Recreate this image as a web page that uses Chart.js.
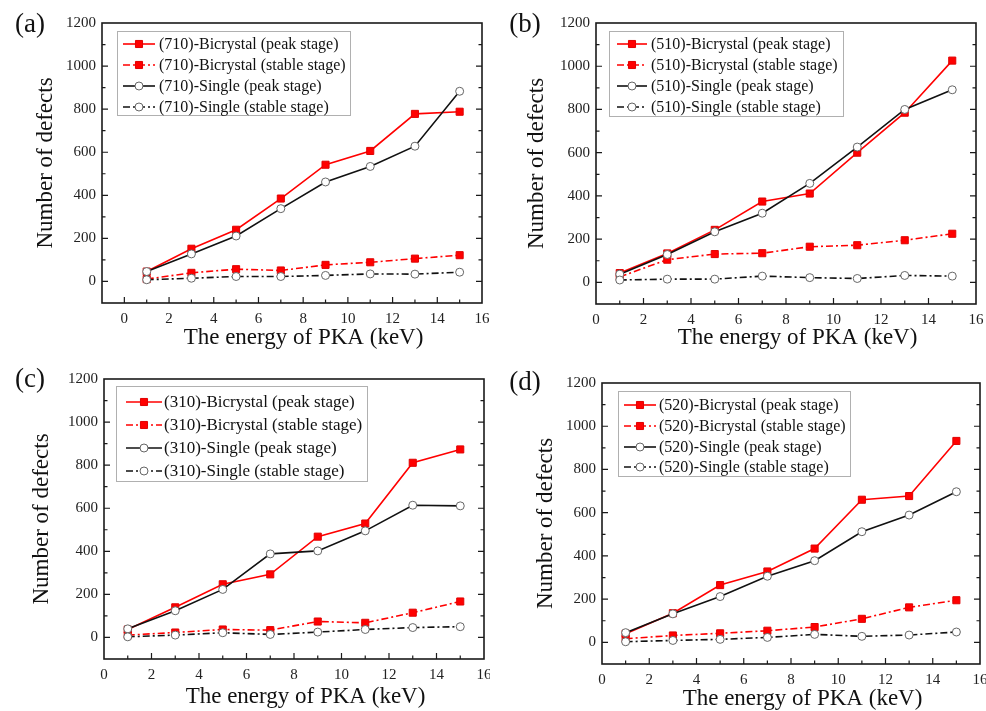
<!DOCTYPE html>
<html>
<head>
<meta charset="utf-8">
<title>Number of defects vs PKA energy</title>
<script src="https://cdn.jsdelivr.net/npm/chart.js@4.4.1/dist/chart.umd.min.js"></script>
<style>
body{margin:0;background:#fff;}
#wrap{position:relative;width:986px;height:711px;overflow:hidden;}
canvas{position:absolute;}
</style>
</head>
<body>
<div id="wrap">
  <canvas id="cA" width="490" height="350" style="left:0;top:0"></canvas>
  <canvas id="cB" width="496" height="350" style="left:490px;top:0"></canvas>
  <canvas id="cC" width="490" height="361" style="left:0;top:350px"></canvas>
  <canvas id="cD" width="496" height="361" style="left:490px;top:350px"></canvas>
</div>
<script>
// PKA energies (keV) and axis ticks
const energy=[1,3,5,7,9,11,13,15];
const xTicks=[0,2,4,6,8,10,12,14,16];
const yTicks=[0,200,400,600,800,1000,1200];

// (a) 710
const p710_biPeak=[46,152,240,385,542,606,778,788];
const p710_biStable=[11,40,57,51,77,89,106,122];
const p710_siPeak=[46,128,211,338,462,534,628,883];
const p710_siStable=[8,15,23,23,28,35,34,43];
// (b) 510
const p510_biPeak=[43,134,243,374,411,600,785,1026];
const p510_biStable=[26,105,131,135,165,172,195,225];
const p510_siPeak=[38,129,234,320,458,626,800,891];
const p510_siStable=[11,15,15,29,22,18,32,29];
// (c) 310
const p310_biPeak=[37,140,247,293,468,529,811,873];
const p310_biStable=[11,23,37,34,74,68,115,167];
const p310_siPeak=[40,124,223,388,402,495,614,611];
const p310_siStable=[3,11,22,14,25,37,46,50];
// (d) 520
const p520_biPeak=[40,135,265,328,434,660,677,932];
const p520_biStable=[17,32,42,54,71,109,162,195];
const p520_siPeak=[45,132,212,306,378,512,589,697];
const p520_siStable=[3,9,14,23,37,28,34,48];

Chart.defaults.font.family='"Liberation Serif","Times New Roman",serif';
Chart.defaults.color='#1a1a1a';

const dashDot=[7,3,2,3];
const pts=arr=>energy.map((e,i)=>({x:e,y:arr[i]}));

function makeDatasets(plane,bp,bs,sp,ss){
  const red={borderColor:'#ff0000',backgroundColor:'#ff0000',pointBackgroundColor:'#ff0000',pointBorderColor:'#e00000',
    pointStyle:'rect',pointRadius:5,pointBorderWidth:1,borderWidth:1.6};
  const blk={borderColor:'#111',backgroundColor:'#fff',pointBackgroundColor:'#fff',pointBorderColor:'#666',
    pointStyle:'circle',pointRadius:4,pointBorderWidth:1,borderWidth:1.6};
  return [
    {...red,label:'('+plane+')-Bicrystal (peak stage)',data:pts(bp),order:3},
    {...red,label:'('+plane+')-Bicrystal (stable stage)',data:pts(bs),borderDash:dashDot,order:2},
    {...blk,label:'('+plane+')-Single (peak stage)',data:pts(sp),order:1},
    {...blk,label:'('+plane+')-Single (stable stage)',data:pts(ss),borderDash:dashDot,order:0}
  ];
}

// frame, inward ticks, in-plot legend and panel letter
function panelPlugin(p){
  return {
    id:'panel',
    afterDraw(chart){
      const ctx=chart.ctx, a=chart.chartArea, xs=chart.scales.x, ys=chart.scales.y;
      ctx.save();
      ctx.strokeStyle='#1a1a1a';
      ctx.lineWidth=1.2;
      ctx.beginPath();
      for(let v=Math.ceil(xs.min);v<=xs.max;v++){
        const px=xs.getPixelForValue(v);
        if(Math.abs(px-a.left)<1||Math.abs(px-a.right)<1) continue;
        const len=v%2===0?6:3.5;
        ctx.moveTo(px,a.bottom);ctx.lineTo(px,a.bottom-len);
      }
      for(let v=-100;v<=1200;v+=100){
        const py=ys.getPixelForValue(v);
        if(Math.abs(py-a.top)<1||Math.abs(py-a.bottom)<1) continue;
        const len=v%200===0?6:3.5;
        ctx.moveTo(a.left,py);ctx.lineTo(a.left+len,py);
        ctx.moveTo(a.right,py);ctx.lineTo(a.right-len,py);
      }
      ctx.stroke();
      ctx.lineWidth=1.6;
      ctx.strokeRect(a.left,a.top,a.right-a.left,a.bottom-a.top);

      // legend
      const L=p.legend;
      ctx.fillStyle='#fff';
      ctx.fillRect(L.x,L.y,L.w,L.h);
      ctx.strokeStyle='#b0b0b0';ctx.lineWidth=1;
      ctx.strokeRect(L.x+0.5,L.y+0.5,L.w,L.h);
      ctx.font=L.font+'px "Liberation Serif"';
      ctx.textBaseline='middle';
      chart.data.datasets.forEach((ds,i)=>{
        const y=L.rows[i];
        ctx.strokeStyle=ds.borderColor;ctx.lineWidth=ds.borderWidth;
        ctx.setLineDash(ds.borderDash||[]);
        ctx.beginPath();ctx.moveTo(L.sx,y);ctx.lineTo(L.sx+L.sw,y);ctx.stroke();
        ctx.setLineDash([]);
        ctx.fillStyle=ds.pointBackgroundColor;ctx.strokeStyle=ds.pointBorderColor;ctx.lineWidth=ds.pointBorderWidth;
        Chart.helpers.drawPoint(ctx,{pointStyle:ds.pointStyle,radius:ds.pointRadius,rotation:0,borderWidth:ds.pointBorderWidth},L.sx+L.sw/2,y);
        ctx.fillStyle='#111';
        ctx.fillText(ds.label,L.tx,y+1);
      });

      ctx.font='27px "Liberation Serif"';
      ctx.textAlign='center';
      ctx.fillStyle='#111';
      ctx.fillText(p.letter,p.lx,p.ly);
      ctx.restore();
    }
  };
}

const panels=[
  {id:'cA',w:490,h:350,area:{l:102,r:482,t:23,b:303},xMin:-1,ytPad:32,xtPad:-2,letter:'(a)',lx:30,ly:25,
   ds:makeDatasets('710',p710_biPeak,p710_biStable,p710_siPeak,p710_siStable),
   legend:{x:117,y:31,w:233,h:84,rows:[44,65,86,107],sx:123,sw:32,tx:159,font:16}},
  {id:'cB',w:496,h:350,area:{l:106,r:486,t:23,b:304},xMin:0,ytPad:33,xtPad:-2,letter:'(b)',lx:35,ly:25,
   ds:makeDatasets('510',p510_biPeak,p510_biStable,p510_siPeak,p510_siStable),
   legend:{x:119,y:31,w:234,h:85,rows:[44,65,86,107],sx:127,sw:30,tx:161,font:16}},
  {id:'cC',w:490,h:361,area:{l:104,r:484,t:29,b:309},xMin:0,ytPad:28,xtPad:0,letter:'(c)',lx:30,ly:30,
   ds:makeDatasets('310',p310_biPeak,p310_biStable,p310_siPeak,p310_siStable),
   legend:{x:116,y:36,w:251,h:95,rows:[52,75,98,121],sx:126,sw:36,tx:164,font:17}},
  {id:'cD',w:496,h:361,area:{l:112,r:493,t:33,b:314},xMin:0,ytPad:42,xtPad:-2,letter:'(d)',lx:35,ly:33,
   ds:makeDatasets('520',p520_biPeak,p520_biStable,p520_siPeak,p520_siStable),
   legend:{x:128,y:41,w:232,h:85,rows:[55,76,97,117],sx:134,sw:32,tx:169,font:16}}
];

panels.forEach(p=>{
  new Chart(document.getElementById(p.id),{
    type:'line',
    data:{datasets:p.ds},
    options:{
      responsive:false,
      animation:false,
      layout:{padding:{top:p.area.t,right:p.w-p.area.r,left:0,bottom:0}},
      plugins:{legend:{display:false},tooltip:{enabled:false}},
      elements:{line:{tension:0}},
      scales:{
        x:{
          type:'linear',min:p.xMin,max:16,
          grid:{display:false,drawTicks:false},border:{display:false},
          afterBuildTicks:s=>{s.ticks=xTicks.map(v=>({value:v}));},
          afterFit:s=>{s.height=p.h-p.area.b;s.paddingLeft=0;s.paddingRight=0;},
          ticks:{padding:7,font:{size:15},color:'#222',maxRotation:0,autoSkip:false,callback:v=>String(v)},
          // leading em space nudges the centred title right, like the original
          title:{display:true,text:'\u2003The energy of PKA (keV)',font:{size:23},color:'#111',padding:{top:0,bottom:p.xtPad}}
        },
        y:{
          type:'linear',min:-100,max:1200,
          grid:{display:false,drawTicks:false},border:{display:false},
          afterBuildTicks:s=>{s.ticks=yTicks.map(v=>({value:v}));},
          afterFit:s=>{s.width=p.area.l;s.paddingTop=0;s.paddingBottom=0;},
          ticks:{padding:6,font:{size:15},color:'#222',callback:v=>String(v)},
          title:{display:true,text:'Number of defects',font:{size:23},color:'#111',padding:{top:p.ytPad,bottom:0}}
        }
      }
    },
    plugins:[panelPlugin(p)]
  });
});
</script>
</body>
</html>
